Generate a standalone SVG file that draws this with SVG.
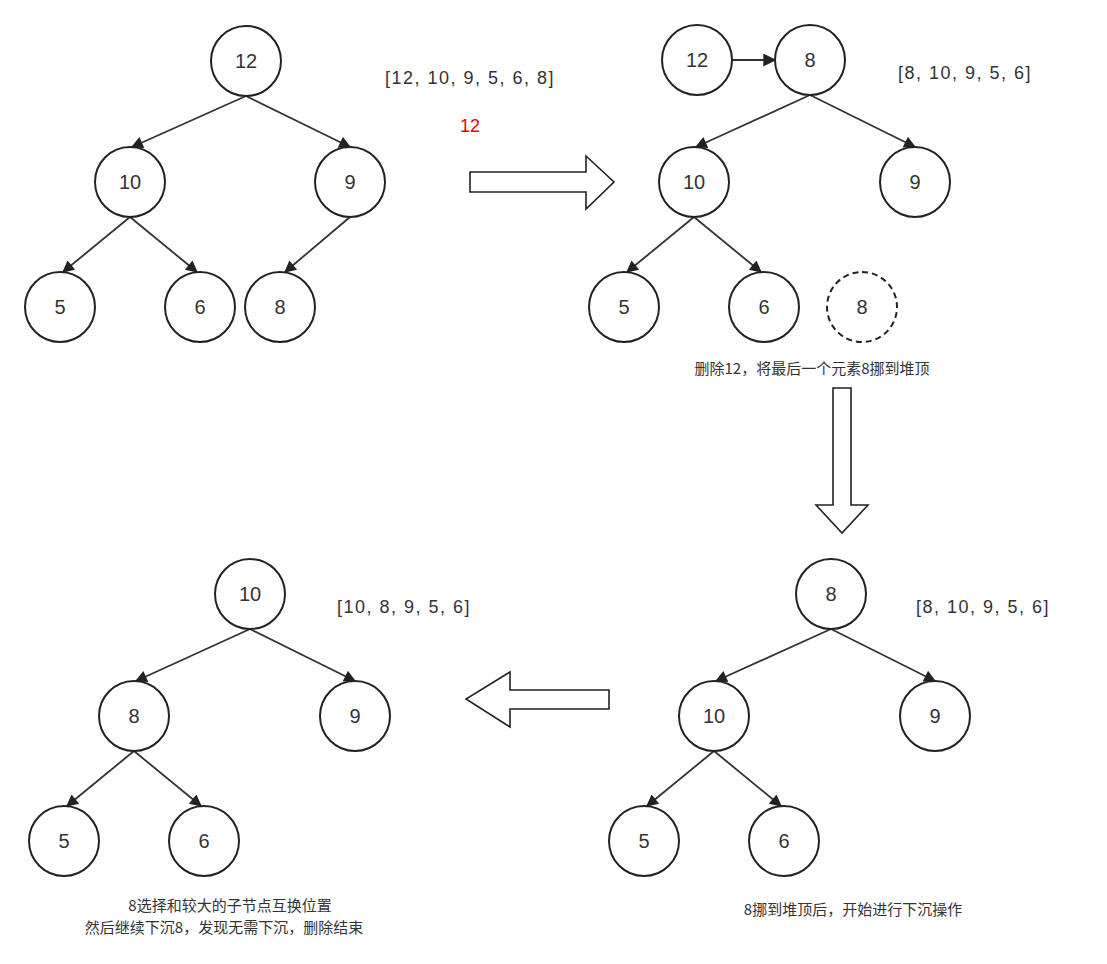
<svg xmlns="http://www.w3.org/2000/svg" width="1107" height="964" viewBox="0 0 1107 964">
<defs>
<style>
.n rect{fill:#fff;stroke:#222;stroke-width:2}
.n text,.t{font-family:"Helvetica","Liberation Sans",sans-serif;font-size:20px;fill:#333;text-anchor:middle;dominant-baseline:central}
.c line{stroke:#333;stroke-width:1.8;marker-end:url(#a)}
.big{fill:#fff;stroke:#222;stroke-width:1.6}
.arr{font-size:18px;letter-spacing:1.5px}
.cjk{font-family:"Noto Sans CJK SC",sans-serif;font-size:15px}
</style>
<marker id="a" viewBox="0 0 10 10" refX="9" refY="5" markerWidth="13" markerHeight="12" orient="auto" markerUnits="userSpaceOnUse"><path d="M0,0 L10,5 L0,10 Z" fill="#222"/></marker>
<marker id="b" viewBox="0 0 10 10" refX="9" refY="5" markerWidth="14" markerHeight="13" orient="auto" markerUnits="userSpaceOnUse"><path d="M0,0 L10,5 L0,10 Z" fill="#222"/></marker>
</defs>
<rect width="1107" height="964" fill="#fff"/>
<g class="c">
<line x1="246" y1="96" x2="132" y2="147"/><line x1="246" y1="96" x2="350" y2="147"/>
<line x1="130" y1="217" x2="63" y2="272"/><line x1="130" y1="217" x2="197" y2="272"/>
<line x1="350" y1="217" x2="285" y2="272"/>
<line x1="732" y1="60" x2="775" y2="60" style="marker-end:url(#b)"/>
<line x1="810" y1="95" x2="696" y2="147"/><line x1="810" y1="95" x2="915" y2="147"/>
<line x1="694" y1="217" x2="627" y2="272"/><line x1="694" y1="217" x2="761" y2="272"/>
<line x1="831" y1="629" x2="716" y2="681"/><line x1="831" y1="629" x2="935" y2="681"/>
<line x1="714" y1="751" x2="647" y2="806"/><line x1="714" y1="751" x2="781" y2="806"/>
<line x1="250" y1="629" x2="136" y2="681"/><line x1="250" y1="629" x2="355" y2="681"/>
<line x1="134" y1="751" x2="67" y2="806"/><line x1="134" y1="751" x2="201" y2="806"/>
</g>
<g id="bigarrows">
<path class="big" d="M470,172 H586 V156 L614,182 L586,209 V192 H470 Z"/>
<path class="big" d="M833,388 H851 V505 H868 L842,533 L816,505 H833 Z"/>
<path class="big" d="M609,690 H510 V672 L466,699 L510,727 V709 H609 Z"/>
</g>
<g id="n1" class="n"><rect x="211" y="26" width="70" height="70" rx="35"/><text x="246" y="61">12</text></g>
<g id="n2" class="n"><rect x="95" y="147" width="70" height="70" rx="35"/><text x="130" y="182">10</text></g>
<g id="n3" class="n"><rect x="315" y="147" width="70" height="70" rx="35"/><text x="350" y="182">9</text></g>
<g id="n4" class="n"><rect x="25" y="272" width="70" height="70" rx="35"/><text x="60" y="307">5</text></g>
<g id="n5" class="n"><rect x="165" y="272" width="70" height="70" rx="35"/><text x="200" y="307">6</text></g>
<g id="n6" class="n"><rect x="245" y="272" width="70" height="70" rx="35"/><text x="280" y="307">8</text></g>
<g id="n7" class="n"><rect x="662" y="25" width="70" height="70" rx="35"/><text x="697" y="60">12</text></g>
<g id="n8" class="n"><rect x="775" y="25" width="70" height="70" rx="35"/><text x="810" y="60">8</text></g>
<g id="n9" class="n"><rect x="659" y="147" width="70" height="70" rx="35"/><text x="694" y="182">10</text></g>
<g id="n10" class="n"><rect x="880" y="147" width="70" height="70" rx="35"/><text x="915" y="182">9</text></g>
<g id="n11" class="n"><rect x="589" y="272" width="70" height="70" rx="35"/><text x="624" y="307">5</text></g>
<g id="n12" class="n"><rect x="729" y="272" width="70" height="70" rx="35"/><text x="764" y="307">6</text></g>
<g id="n13" class="n"><rect x="827" y="272" width="70" height="70" rx="35" stroke-dasharray="6 4"/><text x="862" y="307">8</text></g>
<g id="n14" class="n"><rect x="796" y="559" width="70" height="70" rx="35"/><text x="831" y="594">8</text></g>
<g id="n15" class="n"><rect x="679" y="681" width="70" height="70" rx="35"/><text x="714" y="716">10</text></g>
<g id="n16" class="n"><rect x="900" y="681" width="70" height="70" rx="35"/><text x="935" y="716">9</text></g>
<g id="n17" class="n"><rect x="609" y="806" width="70" height="70" rx="35"/><text x="644" y="841">5</text></g>
<g id="n18" class="n"><rect x="749" y="806" width="70" height="70" rx="35"/><text x="784" y="841">6</text></g>
<g id="n19" class="n"><rect x="215" y="559" width="70" height="70" rx="35"/><text x="250" y="594">10</text></g>
<g id="n20" class="n"><rect x="99" y="681" width="70" height="70" rx="35"/><text x="134" y="716">8</text></g>
<g id="n21" class="n"><rect x="320" y="681" width="70" height="70" rx="35"/><text x="355" y="716">9</text></g>
<g id="n22" class="n"><rect x="29" y="806" width="70" height="70" rx="35"/><text x="64" y="841">5</text></g>
<g id="n23" class="n"><rect x="169" y="806" width="70" height="70" rx="35"/><text x="204" y="841">6</text></g>
<g id="labels">
<text class="t arr" x="470" y="78">[12, 10, 9, 5, 6, 8]</text>
<text class="t" x="470" y="126" style="fill:#e00;font-size:18px">12</text>
<text class="t arr" x="965" y="73">[8, 10, 9, 5, 6]</text>
<text class="t cjk" x="812" y="367">删除12，将最后一个元素8挪到堆顶</text>
<text class="t arr" x="983" y="607">[8, 10, 9, 5, 6]</text>
<text class="t cjk" x="853" y="908">8挪到堆顶后，开始进行下沉操作</text>
<text class="t arr" x="404" y="607">[10, 8, 9, 5, 6]</text>
<text class="t cjk" x="230" y="904">8选择和较大的子节点互换位置</text>
<text class="t cjk" x="224" y="926">然后继续下沉8，发现无需下沉，删除结束</text>
</g>
</svg>
